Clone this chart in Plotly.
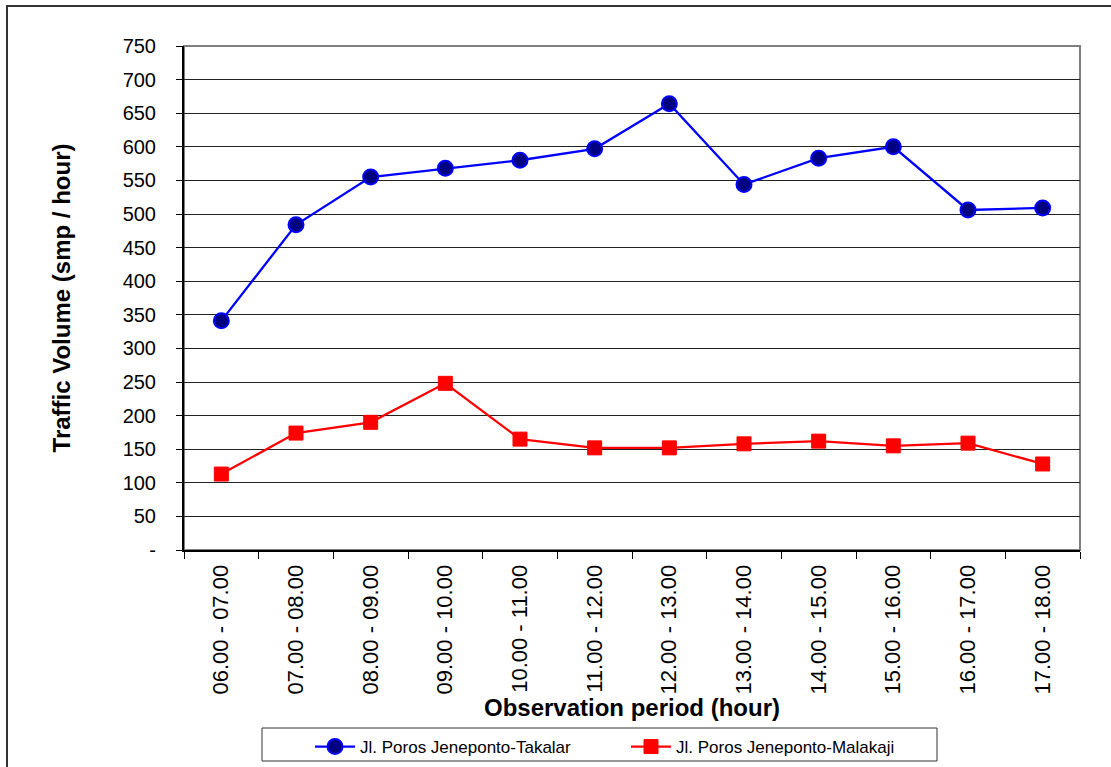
import plotly.graph_objects as go

periods = ["06.00 - 07.00", "07.00 - 08.00", "08.00 - 09.00", "09.00 - 10.00",
           "10.00 - 11.00", "11.00 - 12.00", "12.00 - 13.00", "13.00 - 14.00",
           "14.00 - 15.00", "15.00 - 16.00", "16.00 - 17.00", "17.00 - 18.00"]
takalar = [341, 484, 555, 568, 580, 597, 664, 544, 583, 600, 506, 509]
malakaji = [113, 174, 190, 248, 165, 152, 152, 158, 162, 155, 159, 128]
ytick_vals = list(range(0, 751, 50))
ytick_text = ["-"] + [str(v) for v in ytick_vals[1:]]

font = "Liberation Sans, Arial, sans-serif"

fig = go.Figure()
fig.add_trace(go.Scatter(
    x=periods, y=takalar, mode="lines+markers", name="Jl. Poros Jeneponto-Takalar",
    line=dict(color="#0000FF", width=2.3),
    marker=dict(symbol="circle", size=15, color="#000080", line=dict(color="#0000FF", width=2)),
))
fig.add_trace(go.Scatter(
    x=periods, y=malakaji, mode="lines+markers", name="Jl. Poros Jeneponto-Malakaji",
    line=dict(color="#FF0000", width=2.3),
    marker=dict(symbol="square", size=14, color="#FF0000", line=dict(color="#FF0000", width=1)),
))

W, H = 1111, 790
L, R, T, B = 184, 31, 46, 240
pw, ph = W - L - R, H - T - B

def px_x(p):
    return (p - L) / pw

def px_y(p):
    return (H - B - p) / ph

fig.update_layout(
    width=W, height=H,
    margin=dict(l=L, r=R, t=T, b=B),
    paper_bgcolor="white", plot_bgcolor="white",
    font=dict(family=font, size=20, color="black"),
    showlegend=True,
    legend=dict(
        orientation="h", x=px_x(310), xanchor="left", y=px_y(729), yanchor="top",
        borderwidth=0, bgcolor="rgba(0,0,0,0)", font=dict(size=17, family=font),
        entrywidth=261, itemwidth=40,
    ),
    xaxis=dict(
        type="category", range=[-0.5, 11.5],
        tickangle=-90, tickson="boundaries", ticks="outside", ticklen=7,
        tickcolor="black", tickwidth=1, ticklabelstandoff=4,
        showline=True, linecolor="black", linewidth=2,
        showgrid=False, tickfont=dict(size=22),
        title=dict(text="<b>Observation period (hour)</b>", font=dict(size=24), standoff=5),
    ),
    yaxis=dict(
        range=[0, 750], tickvals=ytick_vals, ticktext=ytick_text,
        ticks="outside", ticklen=6, tickcolor="black", ticklabelstandoff=16,
        showline=True, linecolor="black", linewidth=2,
        showgrid=True, gridcolor="#222222", gridwidth=1,
        zeroline=False, tickfont=dict(size=20),
        title=dict(text="<b>Traffic Volume (smp / hour)</b>", font=dict(size=24), standoff=45),
    ),
    shapes=[
        dict(type="rect", xref="paper", yref="paper", x0=0, x1=1, y0=0, y1=1,
             line=dict(color="#808080", width=2), layer="below"),
        dict(type="rect", xref="paper", yref="paper",
             x0=px_x(7), x1=px_x(1300), y0=px_y(900), y1=px_y(6),
             line=dict(color="#333333", width=2), layer="below"),
        dict(type="rect", xref="paper", yref="paper",
             x0=px_x(262), x1=px_x(937), y0=px_y(761), y1=px_y(728),
             line=dict(color="#333333", width=1), fillcolor="white", layer="below"),
    ],
)

fig.write_html(
    "out.html",
    config={"displayModeBar": False},
    post_script="document.body.style.margin='0';document.body.style.overflow='hidden';",
)
